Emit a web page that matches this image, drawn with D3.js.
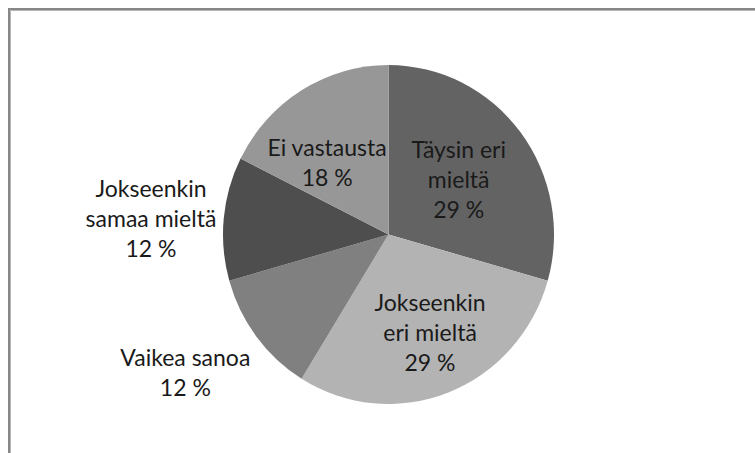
<!DOCTYPE html>
<html>
<head>
<meta charset="utf-8">
<script src="https://cdn.jsdelivr.net/npm/d3@7"></script>
<style>
  html, body { margin: 0; padding: 0; background: #fff; }
  svg { display: block; }
</style>
</head>
<body>
<svg id="chart" width="755" height="453"></svg>
<script>
// ---- Data ----
const categories = ["Täysin eri mieltä", "Jokseenkin eri mieltä", "Vaikea sanoa", "Jokseenkin samaa mieltä", "Ei vastausta"];
const values = [29.4, 29.4, 11.8, 11.8, 17.6];
const percentLabels = ["29 %", "29 %", "12 %", "12 %", "18 %"];
const labelLines = [["Täysin eri", "mieltä"], ["Jokseenkin", "eri mieltä"], ["Vaikea sanoa"], ["Jokseenkin", "samaa mieltä"], ["Ei vastausta"]];
const colors = ["#636363", "#b3b3b3", "#808080", "#4e4e4e", "#979797"];

// ---- Layout ----
const W = 755, H = 453;
const cx = 388.5, cy = 234.5, R = 165.5, sy = 169.5 / 165.5;
// label placement: radius along slice bisector + small nudge
const placement = [
  { r: 88, dx: 0, dy: 0 },
  { r: 105, dx: 3.5, dy: -1.5 },
  { r: 244, dx: -8.5, dy: -12.5 },
  { r: 238, dx: -0.6, dy: 7.4 },
  { r: 94, dx: -12, dy: 10 }
];
const fontSize = 23, lineH = 30;

const svg = d3.select("#chart");

// frame (top + left lines as in the reference crop)
svg.append("path")
  .attr("d", `M9,${H} V9 H${W}`)
  .attr("fill", "none").attr("stroke", "#878787").attr("stroke-width", 2);
svg.append("path")
  .attr("d", `M10.5,${H} V10.5 H${W}`)
  .attr("fill", "none").attr("stroke", "#b4b4b4").attr("stroke-width", 1);

const pie = d3.pie().sort(null).value(d => d)(values);
const arc = d3.arc().innerRadius(0).outerRadius(R);

const g = svg.append("g").attr("transform", `translate(${cx},${cy}) scale(1,${sy})`);
g.selectAll("path.slice")
  .data(pie)
  .join("path")
  .attr("class", "slice")
  .attr("d", arc)
  .attr("fill", (d, i) => colors[i]);

// labels
const lg = svg.append("g").attr("transform", `translate(${cx},${cy})`);
pie.forEach((d, i) => {
  const p = placement[i];
  const a = (d.startAngle + d.endAngle) / 2;
  const x = p.r * Math.sin(a) + p.dx;
  const y = -p.r * Math.cos(a) * sy + p.dy;
  const lines = labelLines[i].concat([percentLabels[i]]);
  const n = lines.length;
  const firstBaseline = y + 8 - (n - 1) * lineH / 2;
  const t = lg.append("text")
    .attr("text-anchor", "middle")
    .attr("font-family", "Lato, 'Open Sans', sans-serif")
    .attr("font-size", fontSize)
    .attr("fill", "#1a1a1a");
  lines.forEach((ln, k) => {
    t.append("tspan").attr("x", x).attr("y", firstBaseline + k * lineH).text(ln);
  });
});
</script>
</body>
</html>
